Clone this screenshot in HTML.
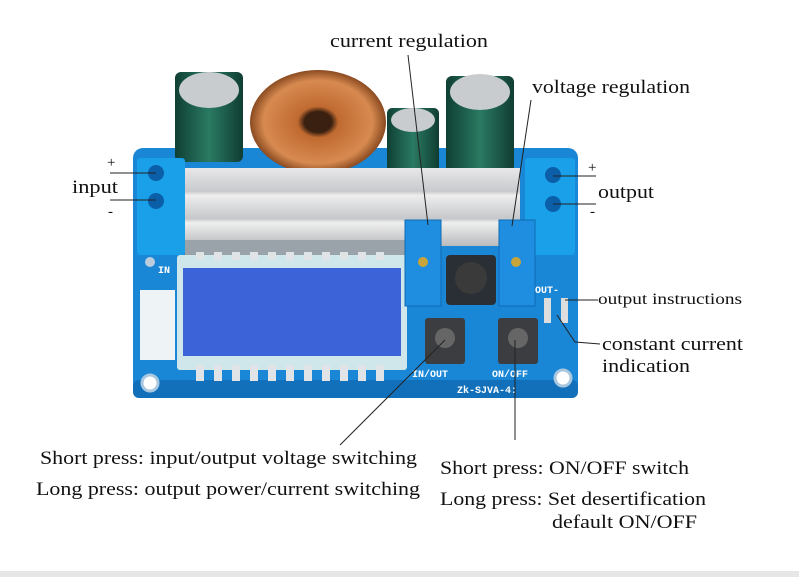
<!DOCTYPE html>
<html><head><meta charset="utf-8"><style>
html,body{margin:0;padding:0;background:#fff;}
svg{display:block}
text{font-family:"Liberation Serif",serif;fill:#111}
</style></head><body>
<svg width="799" height="577" viewBox="0 0 799 577">
<defs>
<linearGradient id="hs" x1="0" y1="0" x2="0" y2="1">
<stop offset="0" stop-color="#e8e8ea"/><stop offset=".3" stop-color="#c7c9cc"/><stop offset=".35" stop-color="#eeeeee"/><stop offset=".65" stop-color="#c5c7ca"/><stop offset=".7" stop-color="#efefef"/><stop offset="1" stop-color="#b8babd"/></linearGradient>
<linearGradient id="cap" x1="0" y1="0" x2="1" y2="0">
<stop offset="0" stop-color="#0f3f33"/><stop offset=".5" stop-color="#2a7a62"/><stop offset="1" stop-color="#103d32"/></linearGradient>
<radialGradient id="tor" cx=".5" cy=".5" r=".5"><stop offset=".2" stop-color="#3a2010"/><stop offset=".3" stop-color="#c06a30"/><stop offset=".8" stop-color="#d78a50"/><stop offset="1" stop-color="#8a4a20"/></radialGradient>
</defs>
<rect x="133" y="148" width="445" height="250" rx="10" fill="#1a86d6"/>
<rect x="133" y="380" width="445" height="18" rx="6" fill="#1270bb"/>
<circle cx="150" cy="383" r="8" fill="#fff" stroke="#a9c8e0" stroke-width="3"/>
<circle cx="563" cy="378" r="8" fill="#fff" stroke="#a9c8e0" stroke-width="3"/>
<circle cx="150" cy="262" r="5" fill="#bcd" />
<rect x="175" y="72" width="68" height="90" rx="6" fill="url(#cap)"/>
<ellipse cx="209" cy="90" rx="30" ry="18" fill="#c9cccf"/>
<rect x="387" y="108" width="52" height="64" rx="5" fill="url(#cap)"/>
<ellipse cx="413" cy="120" rx="22" ry="12" fill="#c9cccf"/>
<rect x="446" y="76" width="68" height="96" rx="6" fill="url(#cap)"/>
<ellipse cx="480" cy="92" rx="30" ry="18" fill="#c9cccf"/>
<ellipse cx="318" cy="122" rx="68" ry="52" fill="url(#tor)"/>
<rect x="185" y="168" width="335" height="78" fill="url(#hs)"/>
<rect x="185" y="240" width="230" height="15" fill="#9aa2aa"/>
<rect x="137" y="158" width="48" height="97" rx="3" fill="#1aa0e8"/>
<rect x="525" y="158" width="50" height="97" rx="3" fill="#1aa0e8"/>
<circle cx="156" cy="173" r="8" fill="#0b5fa8"/><circle cx="156" cy="201" r="8" fill="#0b5fa8"/>
<circle cx="553" cy="175" r="8" fill="#0b5fa8"/><circle cx="553" cy="204" r="8" fill="#0b5fa8"/>
<rect x="177" y="255" width="230" height="115" rx="3" fill="#cfe6ea"/>
<rect x="183" y="268" width="218" height="88" fill="#3d63d8"/>
<g fill="#e0e4e6">
<rect x="196" y="252" width="8" height="8"/><rect x="214" y="252" width="8" height="8"/><rect x="232" y="252" width="8" height="8"/><rect x="250" y="252" width="8" height="8"/><rect x="268" y="252" width="8" height="8"/><rect x="286" y="252" width="8" height="8"/><rect x="304" y="252" width="8" height="8"/><rect x="322" y="252" width="8" height="8"/><rect x="340" y="252" width="8" height="8"/><rect x="358" y="252" width="8" height="8"/><rect x="376" y="252" width="8" height="8"/>
<rect x="196" y="365" width="8" height="16"/><rect x="214" y="365" width="8" height="16"/><rect x="232" y="365" width="8" height="16"/><rect x="250" y="365" width="8" height="16"/><rect x="268" y="365" width="8" height="16"/><rect x="286" y="365" width="8" height="16"/><rect x="304" y="365" width="8" height="16"/><rect x="322" y="365" width="8" height="16"/><rect x="340" y="365" width="8" height="16"/><rect x="358" y="365" width="8" height="16"/><rect x="376" y="365" width="8" height="16"/>
</g>
<rect x="140" y="290" width="35" height="70" fill="#eef3f6"/>
<rect x="446" y="255" width="50" height="50" rx="4" fill="#2a2f35"/>
<circle cx="471" cy="278" r="16" fill="#3a3a3a"/>
<rect x="405" y="220" width="36" height="86" fill="#1f8ee0" stroke="#0f6bb5"/>
<rect x="499" y="220" width="36" height="86" fill="#1f8ee0" stroke="#0f6bb5"/>
<circle cx="423" cy="262" r="5" fill="#c9a43a"/><circle cx="516" cy="262" r="5" fill="#c9a43a"/>
<rect x="425" y="318" width="40" height="46" rx="3" fill="#3b3d40"/><circle cx="445" cy="338" r="10" fill="#666"/>
<rect x="498" y="318" width="40" height="46" rx="3" fill="#3b3d40"/><circle cx="518" cy="338" r="10" fill="#666"/>
<rect x="544" y="298" width="7" height="25" fill="#ddd"/><rect x="561" y="298" width="7" height="25" fill="#ddd"/>
<g font-size="10">
<text x="412" y="377" style="fill:#fff;font-family:'Liberation Mono',monospace;font-weight:bold">IN/OUT</text>
<text x="492" y="377" style="fill:#fff;font-family:'Liberation Mono',monospace;font-weight:bold">ON/OFF</text>
<text x="457" y="393" style="fill:#fff;font-family:'Liberation Mono',monospace;font-weight:bold">Zk-SJVA-4:</text>
<text x="535" y="293" style="fill:#fff;font-family:'Liberation Mono',monospace;font-weight:bold">OUT-</text>
<text x="158" y="273" style="fill:#fff;font-family:'Liberation Mono',monospace;font-weight:bold">IN</text>
</g>
<g stroke="#222" stroke-width="1" fill="none">
<line x1="408" y1="55" x2="428" y2="225"/>
<line x1="531" y1="100" x2="512" y2="226"/>
<line x1="110" y1="173" x2="156" y2="173"/>
<line x1="110" y1="200" x2="156" y2="200"/>
<line x1="553" y1="176" x2="596" y2="176"/>
<line x1="553" y1="204" x2="596" y2="204"/>
<line x1="565" y1="300" x2="598" y2="300"/>
<path d="M557 315 L575 342 L600 344"/>
<line x1="340" y1="445" x2="445" y2="340"/>
<line x1="515" y1="440" x2="515" y2="340"/>
</g>
<g font-size="19" lengthAdjust="spacingAndGlyphs">
<text x="330" y="47" textLength="158" lengthAdjust="spacingAndGlyphs">current regulation</text>
<text x="532" y="93" textLength="158" lengthAdjust="spacingAndGlyphs">voltage regulation</text>
<text x="72" y="193" textLength="46" lengthAdjust="spacingAndGlyphs">input</text>
<text x="598" y="198" textLength="56" lengthAdjust="spacingAndGlyphs">output</text>
<text x="40" y="464" textLength="377" lengthAdjust="spacingAndGlyphs">Short press: input/output voltage switching</text>
<text x="36" y="495" textLength="384" lengthAdjust="spacingAndGlyphs">Long press: output power/current switching</text>
<text x="440" y="474" textLength="249" lengthAdjust="spacingAndGlyphs">Short press: ON/OFF switch</text>
<text x="440" y="505" textLength="266" lengthAdjust="spacingAndGlyphs">Long press: Set desertification</text>
<text x="552" y="528" textLength="145" lengthAdjust="spacingAndGlyphs">default ON/OFF</text>
<text x="602" y="350" textLength="141" lengthAdjust="spacingAndGlyphs">constant current</text>
<text x="602" y="372" textLength="88" lengthAdjust="spacingAndGlyphs">indication</text>
</g>
<text x="598" y="304" font-size="16" textLength="144" lengthAdjust="spacingAndGlyphs">output instructions</text>
<g font-size="15">
<text x="107" y="167">+</text><text x="108" y="216">-</text>
<text x="588" y="172">+</text><text x="590" y="216">-</text>
</g>
<rect x="0" y="571" width="799" height="6" fill="#e6e6e6"/>
</svg>
</body></html>
